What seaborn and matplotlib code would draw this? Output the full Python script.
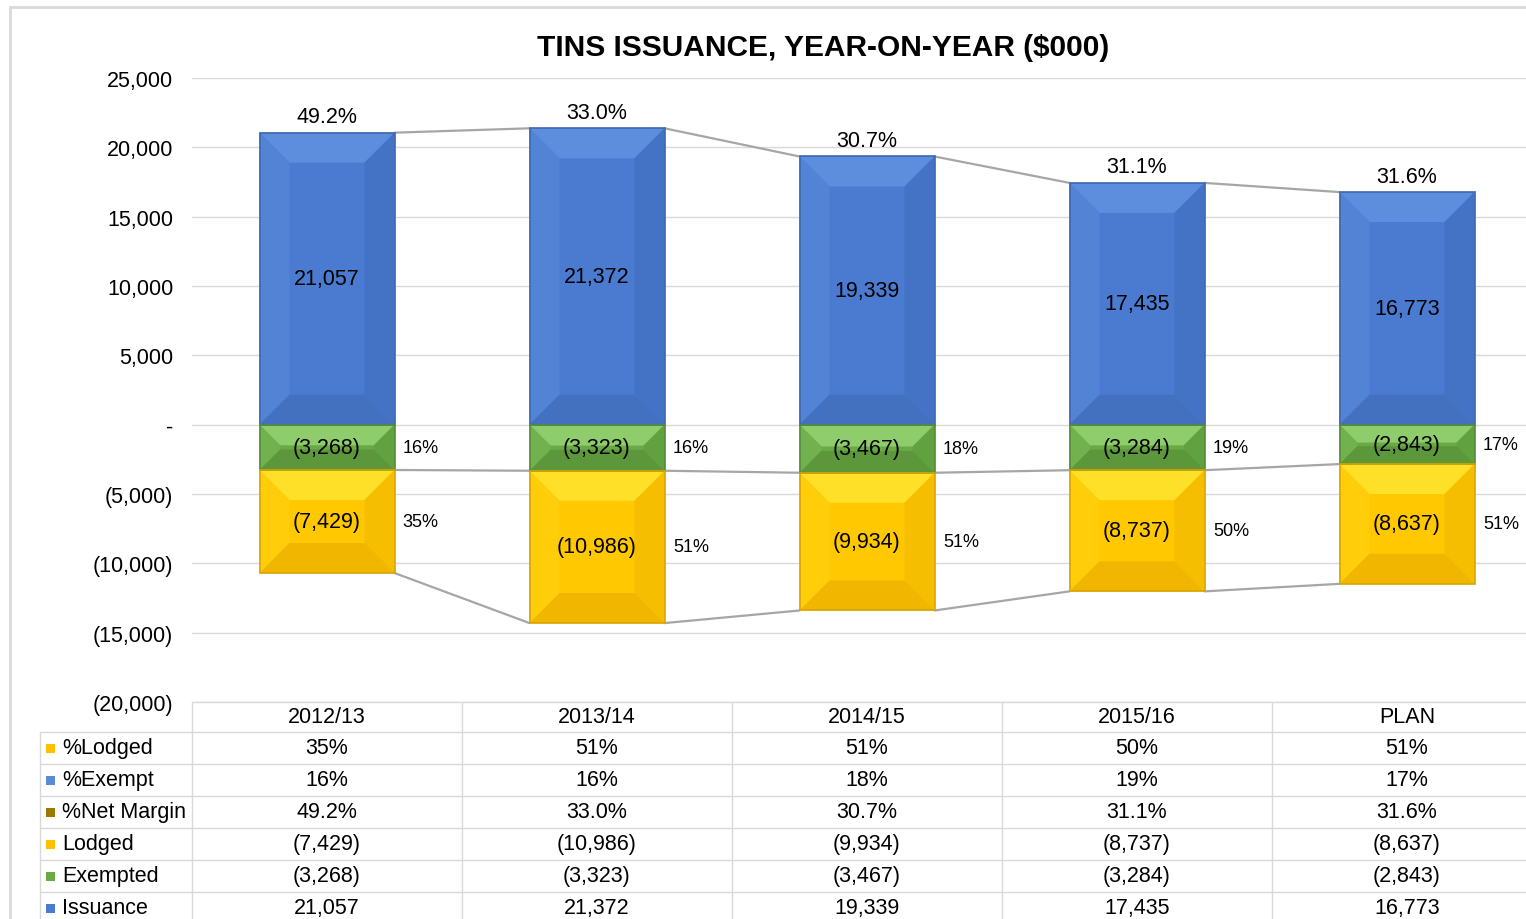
import matplotlib
matplotlib.use("Agg")
import numpy
import seaborn as sea
from matplotlib import pyplot
from matplotlib.lines import Line2D
from matplotlib.patches import Polygon, Rectangle
from matplotlib.transforms import IdentityTransform

years = ["2012/13", "2013/14", "2014/15", "2015/16", "PLAN"]
issuance = [21057, 21372, 19339, 17435, 16773]
exempted = [-3268, -3323, -3467, -3284, -2843]
lodged = [-7429, -10986, -9934, -8737, -8637]
pct_lodged = [35, 51, 51, 50, 51]
pct_exempt = [16, 16, 18, 19, 17]
pct_margin = [49.2, 33.0, 30.7, 31.1, 31.6]

W, H = 1526, 920
FONT = "Liberation Sans"

# face, top, left, right, bottom, edge
SHADES = {
    "blue": ["#4a7bd1", "#5d8ddd", "#5283d5", "#4473c6", "#4470c0", "#3e68b0"],
    "green": ["#6aaa46", "#8fcd6c", "#72b24e", "#62a140", "#5c973c", "#558c37"],
    "yellow": ["#ffc800", "#ffe028", "#ffcd0a", "#f6be00", "#f0b600", "#d9a500"],
}


def money(v):
    if v < 0:
        return f"({abs(v):,.0f})"
    return f"{v:,.0f}"


def bevel(axis, patch, shades, depth=30):
    (x0, y0), (x1, y1) = axis.transData.transform(
        [[patch.get_x(), patch.get_y()],
         [patch.get_x() + patch.get_width(), patch.get_y() + patch.get_height()]]
    )
    x0, x1 = sorted([x0, x1])
    y0, y1 = sorted([y0, y1])
    d = min(depth, (y1 - y0) / 2.2, (x1 - x0) / 2.2)
    faces = [
        ([(x0, y1), (x1, y1), (x1 - d, y1 - d), (x0 + d, y1 - d)], shades[1]),
        ([(x0, y0), (x0 + d, y0 + d), (x0 + d, y1 - d), (x0, y1)], shades[2]),
        ([(x1, y0), (x1 - d, y0 + d), (x1 - d, y1 - d), (x1, y1)], shades[3]),
        ([(x0, y0), (x1, y0), (x1 - d, y0 + d), (x0 + d, y0 + d)], shades[4]),
    ]
    for pts, col in faces:
        poly = Polygon(pts, closed=True, facecolor=col, edgecolor="none",
                       transform=IdentityTransform(), zorder=2.1)
        axis.add_patch(poly)
    frame = Rectangle((x0, y0), x1 - x0, y1 - y0, facecolor="none",
                      edgecolor=shades[5], lw=1.2,
                      transform=IdentityTransform(), zorder=2.2)
    axis.add_patch(frame)


sea.set_style("white")
pyplot.rcParams["font.family"] = [FONT, "DejaVu Sans"]
pyplot.rcParams["text.color"] = "black"
pyplot.rcParams["ytick.color"] = "black"

figure = pyplot.figure(figsize=(W / 100, H / 100), dpi=100)
axis = figure.add_axes([192 / W, 1 - 703 / H, 1350 / W, 624 / H])

sea.barplot(x=years, y=issuance, color=SHADES["blue"][0], saturation=1,
            width=0.5, ax=axis, linewidth=0)
sea.barplot(x=years, y=exempted, color=SHADES["green"][0], saturation=1,
            width=0.5, ax=axis, linewidth=0)
sea.barplot(x=years, y=lodged, bottom=exempted, color=SHADES["yellow"][0],
            saturation=1, width=0.5, ax=axis, linewidth=0)

axis.set_xlim(-0.5, 4.5)
axis.set_ylim(-20000, 25000)
ticks = numpy.arange(-20000, 25001, 5000)
axis.set_yticks(ticks)
axis.set_yticklabels(["-" if t == 0 else money(t) for t in ticks],
                     fontsize=15.5)
axis.tick_params(axis="y", length=0, pad=13.5)
axis.set_xticks([])
axis.set_xlabel("")
axis.set_ylabel("")
axis.grid(axis="y", color="#d9d9d9", lw=1)
axis.set_axisbelow(True)
for side in axis.spines.values():
    side.set_visible(False)

bars = list(axis.patches)
names = ["blue"] * 5 + ["green"] * 5 + ["yellow"] * 5
for patch, name in zip(bars, names):
    bevel(axis, patch, SHADES[name])

# series lines between neighbouring bars
neg_total = [e + l for e, l in zip(exempted, lodged)]
for series in [issuance, exempted, neg_total]:
    for i in range(len(years) - 1):
        axis.plot([i + 0.25, i + 0.75], [series[i], series[i + 1]],
                  color="#a6a6a6", lw=1.6, zorder=1.5)

# labels
for i in range(len(years)):
    axis.annotate(f"{pct_margin[i]:.1f}%", (i, issuance[i]),
                  xytext=(0, 4), textcoords="offset points",
                  ha="center", va="bottom", fontsize=15.5)
    axis.text(i, issuance[i] / 2, money(issuance[i]), ha="center",
              va="center", fontsize=15.5, zorder=5)
    axis.text(i, exempted[i] / 2, money(exempted[i]), ha="center",
              va="center", fontsize=15.5, zorder=5)
    mid = exempted[i] + lodged[i] / 2
    axis.text(i, mid, money(lodged[i]), ha="center", va="center",
              fontsize=15.5, zorder=5)
    axis.annotate(f"{pct_exempt[i]}%", (i + 0.25, exempted[i] / 2),
                  xytext=(6, 0), textcoords="offset points",
                  ha="left", va="center", fontsize=13)
    axis.annotate(f"{pct_lodged[i]}%", (i + 0.25, mid),
                  xytext=(6, 0), textcoords="offset points",
                  ha="left", va="center", fontsize=13)

figure.text(823 / W, 1 - 48 / H, "TINS ISSUANCE, YEAR-ON-YEAR ($000)",
            ha="center", va="center", fontsize=21.5, weight="bold")

# data table below the chart
table = figure.add_axes([192 / W, 1 - 925 / H, 1350 / W, 222 / H])
table.set_xlim(-0.5, 4.5)
table.set_ylim(222, 0)
table.axis("off")
grid_col = "#d9d9d9"
left = -0.5 - 152 / 270
row_edges = [0, 30, 62, 94, 126, 158, 190, 222]
for k, y in enumerate(row_edges[:-1]):
    x_start = -0.5 if k == 0 else left
    table.plot([x_start, 4.5], [y, y], color=grid_col, lw=1, clip_on=False)
for c in range(6):
    table.plot([c - 0.5, c - 0.5], [0, 222], color=grid_col, lw=1,
               clip_on=False)
table.plot([left, left], [30, 222], color=grid_col, lw=1, clip_on=False)

row_names = ["%Lodged", "%Exempt", "%Net Margin", "Lodged", "Exempted",
             "Issuance"]
row_colors = ["#ffc000", "#5b8bd6", "#9c7a00", "#ffc000", "#6aaa46",
              "#4a7bd1"]
row_values = [
    [f"{v}%" for v in pct_lodged],
    [f"{v}%" for v in pct_exempt],
    [f"{v:.1f}%" for v in pct_margin],
    [money(v) for v in lodged],
    [money(v) for v in exempted],
    [money(v) for v in issuance],
]
for i, year in enumerate(years):
    table.text(i, 15, year, ha="center", va="center", fontsize=15.5)
for r, (name, col, vals) in enumerate(zip(row_names, row_colors, row_values)):
    yc = (row_edges[r + 1] + row_edges[r + 2]) / 2
    table.add_patch(Rectangle((left + 6 / 270, yc - 4), 9 / 270, 9,
                              facecolor=col, edgecolor="none", clip_on=False))
    table.text(left + 22 / 270, yc, name, ha="left", va="center",
               fontsize=15.5, clip_on=False)
    for i, v in enumerate(vals):
        table.text(i, yc, v, ha="center", va="center", fontsize=15.5)

# chart area border
figure.add_artist(Line2D([10 / W, 10 / W], [1 - 8 / H, 0], color="#d9d9d9",
                         lw=2, transform=figure.transFigure))
figure.add_artist(Line2D([10 / W, 1], [1 - 8 / H, 1 - 8 / H],
                         color="#d9d9d9", lw=2, transform=figure.transFigure))

figure.savefig("out.png", dpi=100)
